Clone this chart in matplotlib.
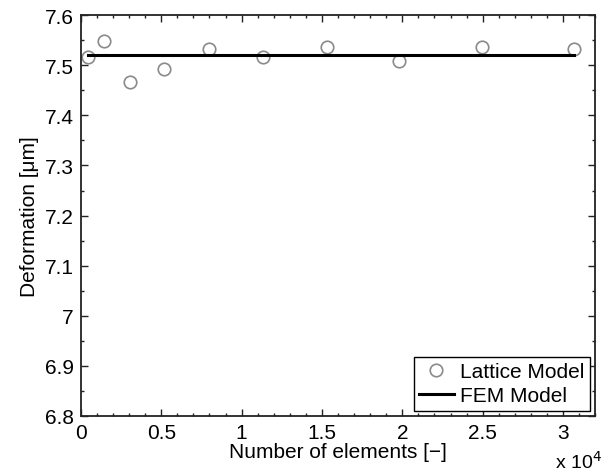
import numpy as np
import matplotlib
matplotlib.use("Agg")
import matplotlib.pyplot as plt
from matplotlib.ticker import MultipleLocator, FuncFormatter

n_elements = [430, 1430, 3050, 5170, 7970, 11330, 15310, 19790, 24950, 30680]
lattice_def = [7.516, 7.548, 7.466, 7.492, 7.532, 7.516, 7.536, 7.508, 7.536, 7.532]
fem_def = 7.521

plt.rcParams['font.family'] = ['Liberation Sans', 'DejaVu Sans']

fig = plt.figure(figsize=(6.08, 4.77), dpi=100)
ax = fig.add_axes([0.133, 0.126, 0.846, 0.840])

ax.plot(n_elements, lattice_def, linestyle='none', marker='o', markersize=9,
        markerfacecolor='none', markeredgecolor='#8a8a8a', markeredgewidth=1.2,
        label='Lattice Model')
ax.plot([n_elements[0], n_elements[-1]], [fem_def, fem_def], color='black',
        linewidth=2.2, label='FEM Model')

ax.set_xlim(0, 32000)
ax.set_ylim(6.8, 7.6)
ax.xaxis.set_major_locator(MultipleLocator(5000))
ax.xaxis.set_minor_locator(MultipleLocator(1000))
ax.yaxis.set_major_locator(MultipleLocator(0.1))
ax.yaxis.set_minor_locator(MultipleLocator(0.05))
ax.xaxis.set_major_formatter(FuncFormatter(lambda v, p: '%g' % round(v / 1e4, 2)))
ax.yaxis.set_major_formatter(FuncFormatter(lambda v, p: '%g' % round(v, 2)))

ax.tick_params(which='both', direction='in', top=True, right=True,
               labelsize=15, color='#222222')
ax.tick_params(axis='x', pad=5)
ax.tick_params(axis='y', pad=5)
ax.tick_params(which='major', length=5, width=1)
ax.tick_params(which='minor', length=2.5, width=1)
for s in ax.spines.values():
    s.set_linewidth(1.3)
    s.set_color('#222222')

ax.set_xlabel('Number of elements [\u2212]', fontsize=15, labelpad=0)
ax.set_ylabel('Deformation [\u03bcm]', fontsize=15, labelpad=4)
ax.text(0.922, -0.085, 'x 10$^4$', transform=ax.transAxes, fontsize=14,
        ha='left', va='top')

leg = ax.legend(loc='lower right', fontsize=15, frameon=True, fancybox=False,
                edgecolor='black', framealpha=1, borderpad=0.25,
                handlelength=1.7, handletextpad=0.3, labelspacing=0.25,
                borderaxespad=0.25)
leg.get_frame().set_linewidth(1.0)

fig.savefig('out.png', dpi=100)
